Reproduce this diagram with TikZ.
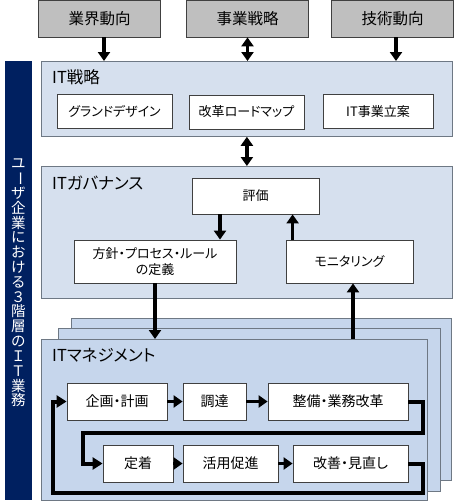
\documentclass[tikz,border=0pt]{standalone}
\usepackage{fontspec}
\setmainfont{Noto Sans CJK JP}[RawFeature=+palt]
\newfontfamily\tatefont{Noto Sans CJK JP}
\usetikzlibrary{arrows.meta}
\definecolor{navy}{RGB}{0,32,96}
\definecolor{govblue}{RGB}{214,224,238}
\definecolor{mgmtblue}{RGB}{198,214,236}
\definecolor{edgegray}{RGB}{110,120,132}
\definecolor{boxgray}{RGB}{191,191,191}
\definecolor{darkline}{RGB}{64,64,64}

\begin{document}
\begin{tikzpicture}[x=1pt, y=-1pt,
        topbox/.style={draw=darkline, fill=boxgray, line width=0.8pt, minimum width=122pt, minimum height=37pt, font=\fontsize{15.5}{18}\selectfont},
        layer/.style={draw=edgegray, line width=0.8pt, anchor=north west, inner sep=0pt},
        whitebox/.style={draw=darkline, fill=white, line width=0.8pt, inner sep=1pt, align=center, font=\fontsize{13}{16}\selectfont},
        stepbox/.style={whitebox, minimum height=37pt, font=\fontsize{14}{17}\selectfont},
        title/.style={anchor=west, inner sep=0pt, font=\fontsize{16.5}{19}\selectfont},
        bigarrow/.style={line width=3.6pt, -{Triangle[length=9pt,width=12pt]}},
        twoway/.style={line width=3.6pt, {Triangle[length=9pt,width=12pt]}-{Triangle[length=9pt,width=12pt]}},
        loopline/.style={line width=4pt, line join=miter, -{Triangle[length=10pt,width=12pt]}}]
        \useasboundingbox (0,0) rectangle (454,501);

        \node [topbox] (ind) at (99.5,18.5) {業界動向};
        \node [topbox] (biz) at (247.5,18.5) {事業戦略};
        \node [topbox] (tech) at (392.5,18.5) {技術動向};

        \node [fill=navy, anchor=north west, inner sep=0pt, minimum width=27pt, minimum height=439pt] (side) at (5,61) {};
        \foreach \ch [count=\i] in {ユ,{\rotatebox[origin=c]{-90}{ー}},ザ,企,業,に,お,け,る,３,階,層,の,Ｉ,Ｔ,業,務}
        {
            \node [text=white, inner sep=0pt, font=\tatefont\fontsize{14.5}{14.5}\selectfont] (side\i) at (18.5,148.7+14.8*\i) {\ch};
        }

        \node [layer, fill=govblue, minimum width=411pt, minimum height=75pt] (strat) at (41,61) {};
        \node [title] (stratname) at (52,77) {IT戦略};
        \node [whitebox, minimum width=115pt, minimum height=34pt] (design) at (114.5,111.5) {グランドデザイン};
        \node [whitebox, minimum width=115pt, minimum height=34pt] (roadmap) at (246.5,112) {改革ロードマップ};
        \node [whitebox, minimum width=110pt, minimum height=34pt] (itplan) at (378,111.5) {IT事業立案};

        \node [layer, fill=govblue, minimum width=411pt, minimum height=132pt] (gov) at (41,166) {};
        \node [title] (govname) at (52,183) {ITガバナンス};
        \node [whitebox, minimum width=127pt, minimum height=36pt] (eval) at (255.5,196) {評価};
        \node [whitebox, minimum width=162pt, minimum height=43pt] (policy) at (155,261.5) {方針・プロセス・ルール\\の定義};
        \node [whitebox, minimum width=127pt, minimum height=43pt] (monitor) at (349.5,261.5) {モニタリング};

        \node [layer, fill=mgmtblue, minimum width=380pt, minimum height=162pt] (back) at (71,318) {};
        \node [layer, fill=mgmtblue, minimum width=382pt, minimum height=163pt] (mid) at (58,328) {};
        \node [layer, fill=mgmtblue, minimum width=386pt, minimum height=161pt] (front) at (41,339) {};
        \node [title] (mgmtname) at (52,355) {ITマネジメント};
        \node [stepbox, minimum width=100pt] (plan) at (117,401.5) {企画・計画};
        \node [stepbox, minimum width=63pt] (procure) at (214.5,401.5) {調達};
        \node [stepbox, minimum width=140pt] (build) at (338,401.5) {整備・業務改革};
        \node [stepbox, minimum width=70pt] (settle) at (138,463.5) {定着};
        \node [stepbox, minimum width=95pt] (promote) at (230.5,463.5) {活用促進};
        \node [stepbox, minimum width=115pt] (review) at (350.5,463.5) {改善・見直し};

        \draw [bigarrow] ([xshift=4.5pt]ind.south) -- ([xshift=4.5pt]ind.south |- strat.north);
        \draw [twoway] (biz.south) -- (biz.south |- strat.north);
        \draw [bigarrow] ([xshift=3.5pt]tech.south) -- ([xshift=3.5pt]tech.south |- strat.north);
        \draw [twoway] (strat.south) -- (strat.south |- gov.north);
        \draw [bigarrow] ([xshift=-35.5pt]eval.south) -- ([xshift=-35.5pt]eval.south |- policy.north);
        \draw [bigarrow] ([xshift=7pt]monitor.north west) -- ([xshift=7pt]monitor.north west |- eval.south);
        \draw [bigarrow] (policy.south) -- (policy.south |- front.north);
        \draw [bigarrow] ([xshift=3.5pt]monitor.south |- front.north) -- ([xshift=3.5pt]monitor.south);

        \draw [bigarrow] (plan) -- (procure);
        \draw [bigarrow] (procure) -- (build);
        \draw [bigarrow] (settle) -- (promote);
        \draw [bigarrow] (promote) -- (review);
        \draw [loopline] (build.east) -- ++(15,0) -- ++(0,31) -| ([xshift=-20pt]settle.west) -- (settle.west);
        \draw [loopline] (review.east) -- ++(15,0) -- ++(0,29.5) -| ([xshift=-14pt]plan.west) -- (plan.west);
    \end{tikzpicture}
\end{document}
